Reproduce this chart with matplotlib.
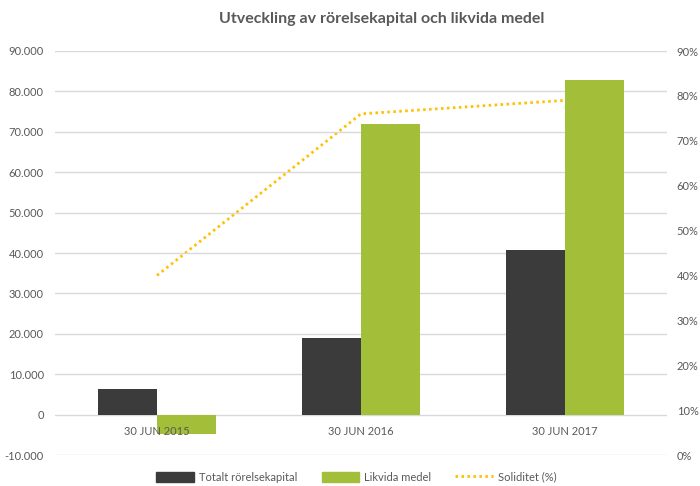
"""
Utveckling av rörelsekapital och likvida medel
Bars: totalt rörelsekapital + likvida medel (left axis), dotted line: soliditet (right axis)
"""

import matplotlib
matplotlib.use("Agg")
import matplotlib.pyplot as plt
from matplotlib.ticker import FuncFormatter, MultipleLocator, PercentFormatter
from matplotlib.lines import Line2D
from matplotlib.patches import Patch

# ---- Data ----------------------------------------------------------------
categories   = ["30 JUN 2015", "30 JUN 2016", "30 JUN 2017"]
rorelsekap   = [6400, 19000, 40800]      # totalt rörelsekapital
likvida      = [-4900, 71900, 82900]     # likvida medel
soliditet    = [0.40, 0.76, 0.79]        # soliditet (%)

# ---- Style ---------------------------------------------------------------
DARK  = "#3b3b3b"
GREEN = "#a3bf39"
GOLD  = "#ffc000"
TEXT  = "#595959"
GRID  = "#d9d9d9"

plt.rcParams["font.family"] = ["Lato", "DejaVu Sans"]

fig = plt.figure(figsize=(7.0, 4.86), dpi=100)
ax = fig.add_axes([55 / 700, 1 - 455 / 486, 612 / 700, 404 / 486])
ax2 = ax.twinx()
ax.set_zorder(2)
ax.patch.set_visible(False)

x = range(len(categories))
w = 0.29
ax.bar([i - w / 2 for i in x], rorelsekap, width=w, color=DARK, zorder=3)
ax.bar([i + w / 2 for i in x], likvida, width=w, color=GREEN, zorder=3)

ax2.plot(list(x), soliditet, color=GOLD, lw=2.0,
         linestyle=(0, (0.9, 1.25)), dash_capstyle="butt")

ax.set_xlim(-0.5, 2.5)
ax.set_ylim(-10000, 90000)
ax.yaxis.set_major_locator(MultipleLocator(10000))
ax.yaxis.set_major_formatter(FuncFormatter(lambda v, p: f"{v:,.0f}".replace(",", ".")))
ax2.set_ylim(0, 0.9)
ax2.yaxis.set_major_locator(MultipleLocator(0.1))
ax2.yaxis.set_major_formatter(PercentFormatter(1.0, decimals=0))

ax.grid(axis="y", color=GRID, lw=1.0, zorder=0)
ax.set_axisbelow(True)
ax.set_xticks([])
for a in (ax, ax2):
    for s in a.spines.values():
        s.set_visible(False)
ax.tick_params(axis="y", length=0, pad=8, labelsize=8, labelcolor=TEXT)
ax2.tick_params(axis="y", length=0, pad=7, labelsize=8, labelcolor=TEXT)

for i, lbl in enumerate(categories):
    ax.annotate(lbl, (i, 0), xytext=(0, -12.5), textcoords="offset points",
                ha="center", va="center", fontsize=8, color=TEXT, zorder=5)

fig.text(0.545, 1 - 19 / 486, "Utveckling av rörelsekapital och likvida medel",
         ha="center", va="center", fontsize=11.5, fontweight="bold", color=TEXT)

handles = [
    Patch(color=DARK, label="Totalt rörelsekapital"),
    Patch(color=GREEN, label="Likvida medel"),
    Line2D([], [], color=GOLD, lw=2.0, linestyle=(0, (0.9, 1.25)), label="Soliditet (%)"),
]
fig.legend(handles=handles, loc="center", bbox_to_anchor=(0.509, 0.018), ncol=3,
           frameon=False, fontsize=8, labelcolor=TEXT, handlelength=3.4,
           handleheight=1.0, handletextpad=0.4, columnspacing=2.2)

fig.savefig("out.png", dpi=100)
